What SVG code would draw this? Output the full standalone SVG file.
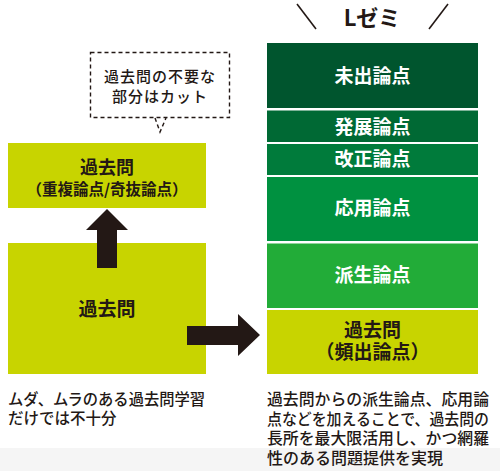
<svg xmlns="http://www.w3.org/2000/svg" width="500" height="471" viewBox="0 0 500 471">
<style>
text{font-family:"Noto Sans CJK JP","Noto Sans",sans-serif;text-anchor:middle}
.lbl{font-weight:700;font-size:18px}
.w{fill:#ffffff}
.d{fill:#231815}
.desc{font-weight:500;font-size:15.5px;fill:#231815;text-anchor:start}
.dr{font-size:16px}
.dash{fill:none;stroke:#231815;stroke-width:1.4;stroke-dasharray:4 3}
.arrow{fill:#231815}
</style>
<rect x="0" y="448" width="500" height="23" fill="#f5f5f5"/>
<g id="callout">
<rect class="dash" x="90.5" y="52.5" width="139" height="65" fill="#fff"/>
<polyline class="dash" points="155,118 160,132 166,118"/>
<text x="160" y="82" style="font-size:15px;font-weight:500;letter-spacing:1px" class="d">過去問の不要な</text>
<text x="160" y="102" style="font-size:15px;font-weight:500;letter-spacing:1px" class="d">部分はカット</text>
</g>
<g id="node-cut">
<rect x="8" y="143" width="198" height="65" fill="#c8d400"/>
<text class="lbl d" x="107" y="174">過去問</text>
<text class="lbl d" x="107" y="195" style="font-size:15.5px">（重複論点/奇抜論点）</text>
</g>
<g id="node-base">
<rect x="8" y="243" width="198" height="131" fill="#c8d400"/>
<text class="lbl d" x="107" y="316" style="font-size:19px">過去問</text>
</g>
<g id="desc-left">
<text class="desc" x="8" y="405" textLength="197" lengthAdjust="spacingAndGlyphs">ムダ、ムラのある過去問学習</text>
<text class="desc" x="8" y="424">だけでは不十分</text>
</g>
<g id="title">
<text x="372" y="26" class="d" style="font-size:22px;font-weight:700">Lゼミ</text>
<line x1="297" y1="4" x2="316" y2="29" stroke="#231815" stroke-width="1.6"/>
<line x1="448" y1="4" x2="429" y2="29" stroke="#231815" stroke-width="1.6"/>
</g>
<g id="node-mishutsu">
<rect x="267" y="43" width="211" height="65" fill="#00552e"/>
<text class="lbl w" x="372.5" y="83" style="font-size:19px">未出論点</text>
</g>
<g id="node-hatten">
<rect x="267" y="110.5" width="211" height="31.5" fill="#006934"/>
<text class="lbl w" x="372.5" y="134" style="font-size:19px">発展論点</text>
</g>
<g id="node-kaisei">
<rect x="267" y="144" width="211" height="31" fill="#007b3b"/>
<text class="lbl w" x="372.5" y="166" style="font-size:19px">改正論点</text>
</g>
<g id="node-ouyou">
<rect x="267" y="177" width="211" height="64" fill="#009140"/>
<text class="lbl w" x="372.5" y="215" style="font-size:19px">応用論点</text>
</g>
<g id="node-hasei">
<rect x="267" y="243.5" width="211" height="64.5" fill="#22ac38"/>
<text class="lbl w" x="372.5" y="282" style="font-size:19px">派生論点</text>
</g>
<g id="node-kakomon">
<rect x="267" y="310" width="211" height="64" fill="#c8d400"/>
<text class="lbl d" x="372.5" y="337" style="font-size:19px">過去問</text>
<text class="lbl d" x="372.5" y="359" style="font-size:19px">（頻出論点）</text>
</g>
<g id="desc-right">
<text class="desc dr" x="267" y="405" textLength="222" lengthAdjust="spacingAndGlyphs">過去問からの派生論点、応用論</text>
<text class="desc dr" x="267" y="424.5" textLength="222" lengthAdjust="spacingAndGlyphs">点などを加えることで、過去問の</text>
<text class="desc dr" x="267" y="444" textLength="222" lengthAdjust="spacingAndGlyphs">長所を最大限活用し、かつ網羅</text>
<text class="desc dr" x="267" y="463.5">性のある問題提供を実現</text>
</g>
<g id="connectors">
<polygon class="arrow" points="97,268 117,268 117,230 128,230 107,209 86,230 97,230"/>
<polygon class="arrow" points="187,326 238,326 238,314 260,335 238,356 238,345 187,345"/>
</g>
</svg>
